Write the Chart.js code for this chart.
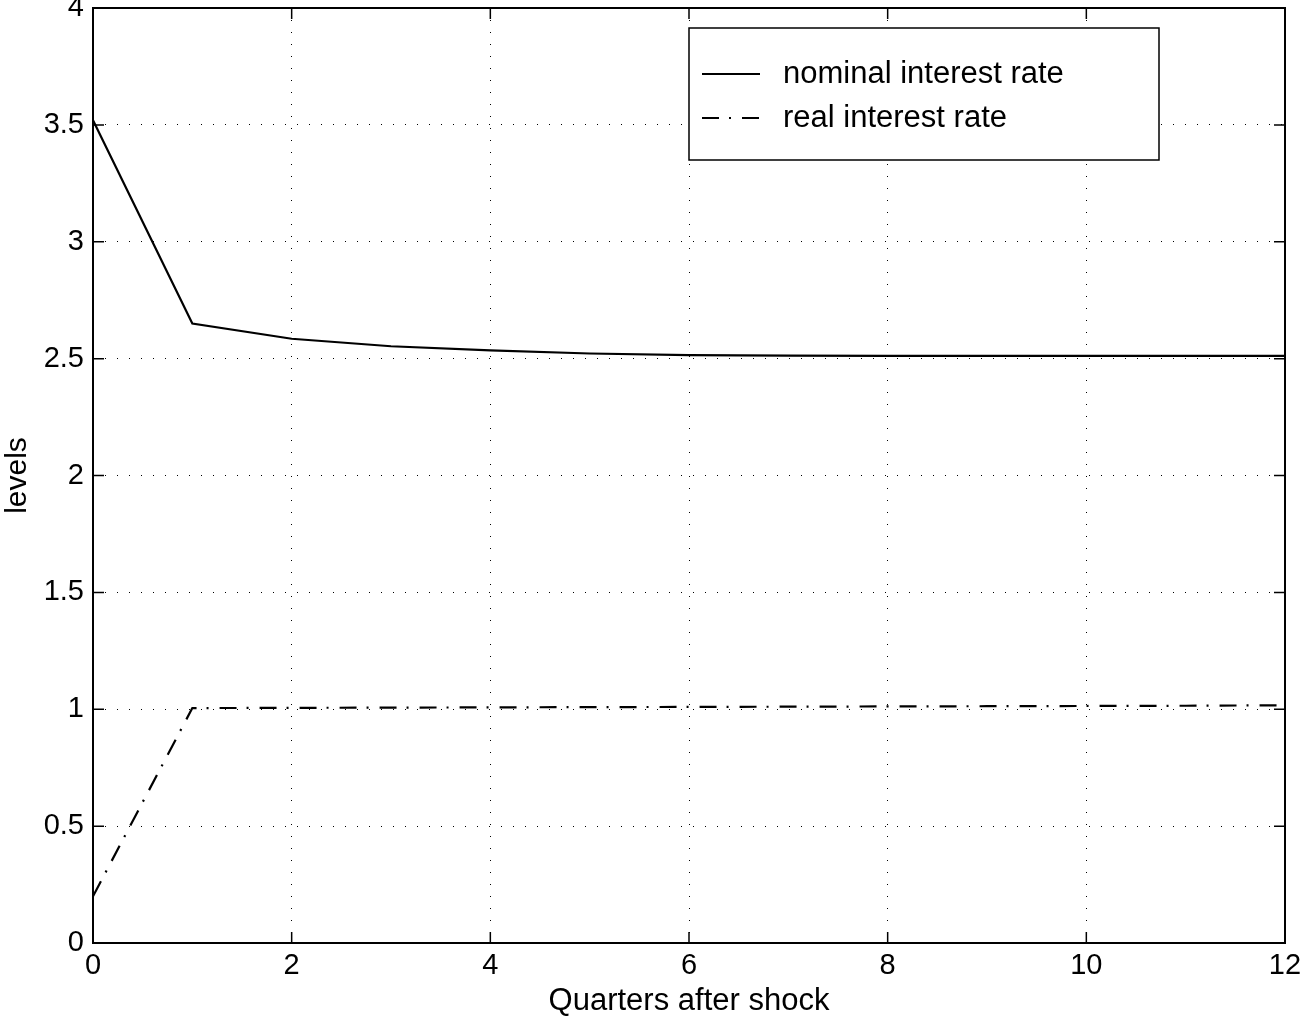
<!DOCTYPE html>
<html>
<head>
<meta charset="utf-8">
<script src="https://cdn.jsdelivr.net/npm/chart.js@4"></script>
<style>
html,body{margin:0;padding:0;background:#fff;}
#wrap{width:1307px;height:1022px;position:relative;}
</style>
</head>
<body>
<div id="wrap"><canvas id="c" width="1307" height="1022"></canvas></div>
<script>
const quarters = [0,1,2,3,4,5,6,7,8,9,10,11,12];
const nominalRate = [3.52,2.65,2.585,2.553,2.535,2.522,2.515,2.513,2.512,2.512,2.512,2.512,2.512];
const realRate = [0.2,1.005,1.006,1.007,1.008,1.009,1.010,1.011,1.012,1.013,1.014,1.015,1.017];
const seriesLabels = ['nominal interest rate','real interest rate'];
const xTicks = [0,2,4,6,8,10,12];
const yTicks = [0,0.5,1,1.5,2,2.5,3,3.5,4];

const FONT = '"Liberation Sans", Arial, Helvetica, sans-serif';
const realDash = [17,10,2,11];

const framePlugin = {
  id: 'frame',
  afterDraw(chart) {
    const ctx = chart.ctx, a = chart.chartArea;
    const xs = chart.scales.x, ys = chart.scales.y;
    ctx.save();
    ctx.strokeStyle = '#000';
    ctx.lineWidth = 2;
    ctx.setLineDash([]);
    ctx.strokeRect(a.left, a.top, a.right - a.left, a.bottom - a.top);
    const L = 11;
    ctx.lineWidth = 1.5;
    ctx.beginPath();
    xTicks.forEach(v => {
      const px = xs.getPixelForValue(v);
      ctx.moveTo(px, a.bottom); ctx.lineTo(px, a.bottom - L);
      ctx.moveTo(px, a.top); ctx.lineTo(px, a.top + L);
    });
    yTicks.forEach(v => {
      const py = ys.getPixelForValue(v);
      ctx.moveTo(a.left, py); ctx.lineTo(a.left + L, py);
      ctx.moveTo(a.right, py); ctx.lineTo(a.right - L, py);
    });
    ctx.stroke();

    // legend
    const bx = a.left + 596, by = a.top + 20, bw = 470, bh = 132;
    ctx.fillStyle = '#fff';
    ctx.fillRect(bx, by, bw, bh);
    ctx.lineWidth = 1.5;
    ctx.strokeRect(bx, by, bw, bh);
    ctx.font = '31px ' + FONT;
    ctx.fillStyle = '#000';
    ctx.textBaseline = 'middle';
    const rows = [by + 46, by + 90];
    chart.data.datasets.forEach((ds, i) => {
      ctx.beginPath();
      ctx.lineWidth = 2;
      ctx.setLineDash(ds.borderDash || []);
      ctx.moveTo(bx + 13, rows[i]); ctx.lineTo(bx + 71, rows[i]);
      ctx.stroke();
      ctx.setLineDash([]);
      ctx.fillText(ds.label, bx + 94, rows[i]);
    });
    ctx.restore();
  }
};

new Chart(document.getElementById('c'), {
  type: 'line',
  data: {
    datasets: [
      { label: seriesLabels[0], data: quarters.map((q,i)=>({x:q,y:nominalRate[i]})),
        borderColor:'#000', borderWidth:2.2, pointRadius:0, tension:0, fill:false },
      { label: seriesLabels[1], data: quarters.map((q,i)=>({x:q,y:realRate[i]})),
        borderColor:'#000', borderWidth:2.2, pointRadius:0, tension:0, fill:false, borderDash: realDash }
    ]
  },
  options: {
    responsive:false, animation:false,
    layout:{padding:{left:0,top:8,right:22,bottom:0}},
    plugins:{legend:{display:false}, tooltip:{enabled:false}},
    scales:{
      x:{ type:'linear', min:0, max:12,
        afterBuildTicks(s){ s.ticks = xTicks.map(v=>({value:v})); },
        afterFit(s){ s.height = 79; s.paddingLeft = 0; s.paddingRight = 0; },
        grid:{ color:'#000', lineWidth:1, drawTicks:false },
        border:{ display:false, dash:[1,11] },
        ticks:{ color:'#000', font:{family:FONT,size:29}, padding:6, maxRotation:0 },
        title:{ display:true, text:'Quarters after shock', color:'#000', font:{family:FONT,size:31}, padding:{top:0,bottom:2} }
      },
      y:{ type:'linear', min:0, max:4,
        afterBuildTicks(s){ s.ticks = yTicks.map(v=>({value:v})); },
        afterFit(s){ s.width = 93; s.paddingTop = 0; s.paddingBottom = 0; },
        grid:{ color:'#000', lineWidth:1, drawTicks:false },
        border:{ display:false, dash:[1,11] },
        ticks:{ color:'#000', font:{family:FONT,size:29}, padding:9, callback:v=>String(v) },
        title:{ display:true, text:'levels', color:'#000', font:{family:FONT,size:30}, padding:{top:0,bottom:0} }
      }
    }
  },
  plugins:[framePlugin]
});
</script>
</body>
</html>
